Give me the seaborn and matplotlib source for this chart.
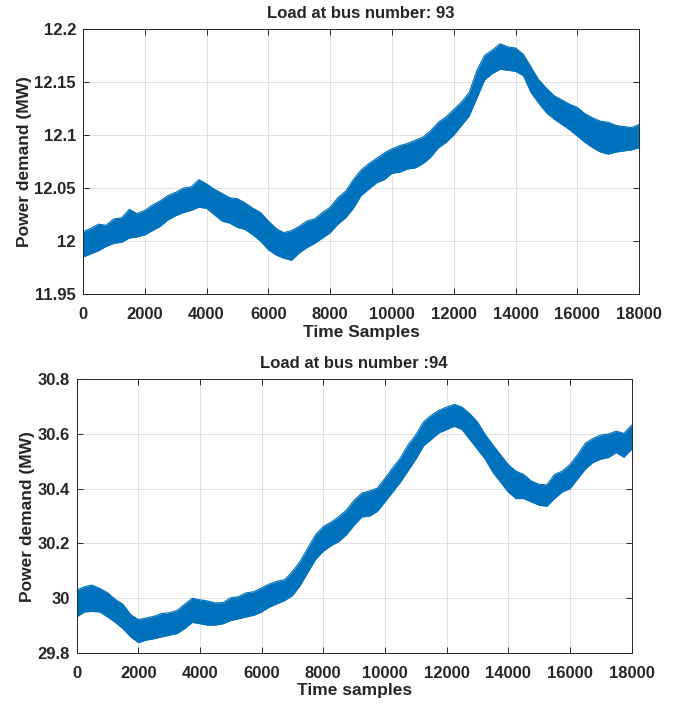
import numpy as np
import pandas as pd
import seaborn as sns
import matplotlib
matplotlib.use("Agg")
import matplotlib.pyplot as plt

# --- data: noise band edges every 250 samples ---
samples = np.arange(0, 18001, 250)

bus93_upper = [12.009, 12.012, 12.016, 12.015, 12.021, 12.022, 12.030, 12.026, 12.029, 12.034,
               12.038, 12.043, 12.046, 12.050, 12.051, 12.058, 12.054, 12.049, 12.045, 12.041,
               12.040, 12.036, 12.031, 12.027, 12.019, 12.012, 12.008, 12.010, 12.014, 12.019,
               12.021, 12.027, 12.032, 12.041, 12.047, 12.058, 12.067, 12.073, 12.078, 12.083,
               12.087, 12.090, 12.092, 12.095, 12.098, 12.104, 12.112, 12.117, 12.124, 12.131,
               12.140, 12.161, 12.175, 12.180, 12.186, 12.183, 12.182, 12.176, 12.164, 12.152,
               12.144, 12.137, 12.133, 12.129, 12.126, 12.120, 12.116, 12.113, 12.112, 12.109,
               12.108, 12.107, 12.110]
bus93_lower = [11.985, 11.988, 11.991, 11.995, 11.998, 11.999, 12.003, 12.004, 12.006, 12.010,
               12.014, 12.020, 12.024, 12.027, 12.029, 12.032, 12.031, 12.025, 12.019, 12.017,
               12.013, 12.011, 12.006, 12.000, 11.992, 11.987, 11.984, 11.982, 11.989, 11.994,
               11.998, 12.003, 12.008, 12.016, 12.022, 12.031, 12.043, 12.049, 12.055, 12.058,
               12.064, 12.065, 12.068, 12.069, 12.073, 12.079, 12.088, 12.093, 12.100, 12.109,
               12.118, 12.135, 12.152, 12.158, 12.162, 12.161, 12.160, 12.156, 12.140, 12.130,
               12.121, 12.115, 12.110, 12.105, 12.099, 12.093, 12.088, 12.084, 12.082, 12.084,
               12.085, 12.086, 12.088]

bus94_upper = [30.030, 30.042, 30.048, 30.036, 30.020, 29.996, 29.978, 29.940, 29.922, 29.928,
               29.934, 29.944, 29.947, 29.955, 29.978, 30.000, 29.994, 29.990, 29.983, 29.984,
               30.002, 30.006, 30.020, 30.024, 30.038, 30.052, 30.062, 30.068, 30.098, 30.135,
               30.184, 30.232, 30.262, 30.278, 30.298, 30.322, 30.358, 30.384, 30.392, 30.402,
               30.438, 30.476, 30.512, 30.560, 30.596, 30.644, 30.668, 30.686, 30.698, 30.708,
               30.698, 30.674, 30.644, 30.598, 30.560, 30.524, 30.488, 30.464, 30.452, 30.428,
               30.416, 30.414, 30.452, 30.464, 30.488, 30.524, 30.566, 30.584, 30.596, 30.600,
               30.610, 30.602, 30.632]
bus94_lower = [29.932, 29.950, 29.952, 29.950, 29.932, 29.912, 29.889, 29.859, 29.838, 29.847,
               29.852, 29.859, 29.865, 29.871, 29.889, 29.912, 29.907, 29.902, 29.902, 29.907,
               29.919, 29.925, 29.932, 29.938, 29.950, 29.968, 29.980, 29.992, 30.010, 30.047,
               30.095, 30.142, 30.172, 30.192, 30.207, 30.232, 30.267, 30.297, 30.300, 30.317,
               30.352, 30.388, 30.424, 30.466, 30.508, 30.556, 30.580, 30.604, 30.616, 30.628,
               30.616, 30.580, 30.544, 30.508, 30.460, 30.424, 30.388, 30.364, 30.364, 30.352,
               30.340, 30.336, 30.364, 30.388, 30.400, 30.436, 30.472, 30.496, 30.508, 30.514,
               30.532, 30.515, 30.544]

xticks = np.arange(0, 18001, 2000)
yticks93 = [11.95, 12.0, 12.05, 12.1, 12.15, 12.2]
yticks94 = [29.8, 30.0, 30.2, 30.4, 30.6, 30.8]

blue = "#0072BD"

sns.set_style("ticks")
plt.rcParams['font.family'] = ['Liberation Sans', 'DejaVu Sans']
plt.rcParams['font.weight'] = 'bold'
plt.rcParams['axes.labelweight'] = 'bold'
plt.rcParams['axes.titleweight'] = 'bold'
plt.rcParams['xtick.direction'] = 'in'
plt.rcParams['ytick.direction'] = 'in'

fig = plt.figure(figsize=(6.91, 7.04), dpi=100)
ax1 = fig.add_axes([0.120, 0.582, 0.805, 0.377])
ax2 = fig.add_axes([0.111, 0.0724, 0.803, 0.389])


def draw(ax, upper, lower, yticks, ylabels, title, xlabel):
    df = pd.DataFrame({"sample": samples, "upper": upper, "lower": lower})
    ax.fill_between(df["sample"], df["lower"], df["upper"], color=blue, lw=0)
    sns.lineplot(data=df, x="sample", y="upper", ax=ax, color=blue, lw=0.8)
    sns.lineplot(data=df, x="sample", y="lower", ax=ax, color=blue, lw=0.8)
    ax.set_xlim(0, 18000)
    ax.set_ylim(yticks[0], yticks[-1])
    ax.set_xticks(xticks)
    ax.set_yticks(yticks)
    ax.set_yticklabels(ylabels)
    ax.grid(True, color="#dcdcdc", lw=0.6)
    ax.set_axisbelow(True)
    ax.tick_params(top=True, right=True, length=4, width=0.7, color="#262626",
                   labelsize=12)
    ax.tick_params(axis="x", pad=9)
    ax.tick_params(axis="y", pad=5)
    for sp in ax.spines.values():
        sp.set_color("#262626")
        sp.set_linewidth(0.7)
    ax.set_title(title, fontsize=12, pad=8)
    ax.set_xlabel(xlabel, fontsize=12.5, labelpad=2)
    ax.set_ylabel("Power demand (MW)", fontsize=12.5, labelpad=2)


draw(ax1, bus93_upper, bus93_lower, yticks93,
     ["11.95", "12", "12.05", "12.1", "12.15", "12.2"],
     "Load at bus number: 93", "Time Samples")
draw(ax2, bus94_upper, bus94_lower, yticks94,
     ["29.8", "30", "30.2", "30.4", "30.6", "30.8"],
     "Load at bus number :94", "Time samples")

fig.savefig("out.png", dpi=100)
